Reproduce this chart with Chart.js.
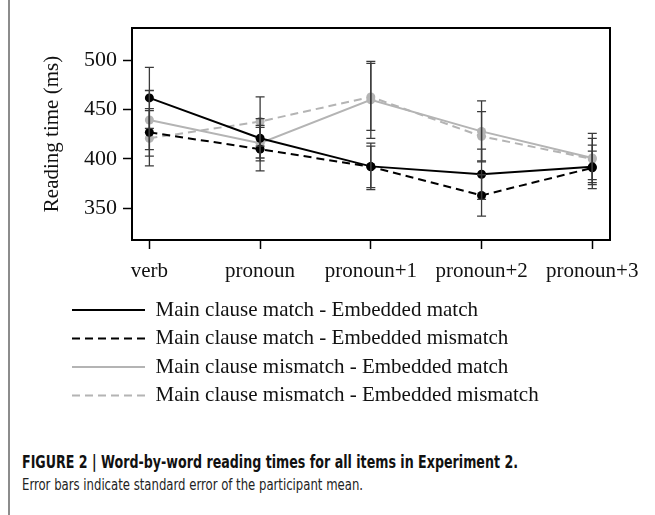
<!DOCTYPE html>
<html><head><meta charset="utf-8">
<script src="https://cdn.jsdelivr.net/npm/chart.js@4.4.1/dist/chart.umd.min.js"></script>
<style>
html,body{margin:0;padding:0;background:#fff;}
#wrap{position:relative;width:655px;height:515px;overflow:hidden;background:#fff;}
#frame{position:absolute;left:8px;top:0;width:0;height:515px;border-left:2px solid #8c8c8c;}
#c{position:absolute;left:0;top:0;}
.cap{position:absolute;left:22px;white-space:nowrap;transform-origin:0 50%;font-family:'Liberation Sans Narrow','DejaVu Sans Condensed','Arial Narrow','Liberation Sans',sans-serif;color:#111;line-height:1;display:inline-block;}
#cap1{font-weight:bold;font-size:17px;top:454px;}
#cap2{font-size:16px;top:477px;color:#222;}
</style></head>
<body><div id="wrap"><div id="frame"></div>
<canvas id="c" width="655" height="430"></canvas>
<div class="cap" id="cap1">FIGURE 2 | Word-by-word reading times for all items in Experiment 2.</div>
<div class="cap" id="cap2">Error bars indicate standard error of the participant mean.</div></div>
<script>
const categories = ['verb', 'pronoun', 'pronoun+1', 'pronoun+2', 'pronoun+3'];
const yTicks = [350, 400, 450, 500];
const seriesNames = [
  'Main clause match - Embedded match',
  'Main clause match - Embedded mismatch',
  'Main clause mismatch - Embedded match',
  'Main clause mismatch - Embedded mismatch'
];
const matchMatch = [462, 421, 392.5, 384.5, 392];
const matchMatchSE = [31, 20, 23.5, 25.5, 22];
const matchMismatch = [427, 410, 392, 363, 391];
const matchMismatchSE = [24, 22, 21, 21, 17];
const mismatchMatch = [439.5, 416, 460, 428, 401];
const mismatchMatchSE = [30, 18, 39, 31, 25];
const mismatchMismatch = [421, 438, 463, 423, 400];
const mismatchMismatchSE = [28, 25, 34, 25, 21];

const BLACK = '#000000', GRAY = '#b4b4b4', DASH = [8, 5];
const SERIF = "'Liberation Serif','Times New Roman',serif";

function makeSet(label, vals, se, color, dash) {
  return {
    label, se,
    data: vals.map((v, i) => ({x: i, y: v})),
    borderColor: color, backgroundColor: color, borderWidth: 2, borderDash: dash,
    pointRadius: 4.5, pointHoverRadius: 4.5, pointBackgroundColor: color, pointBorderWidth: 0,
    tension: 0
  };
}

const frame = {
  id: 'frame',
  beforeDatasetsDraw(chart) {
    const a = chart.chartArea, ctx = chart.ctx;
    ctx.save(); ctx.strokeStyle = '#000'; ctx.lineWidth = 2;
    ctx.strokeRect(a.left, a.top, a.right - a.left, a.bottom - a.top);
    ctx.restore();
  }
};
const errorBars = {
  id: 'errorBars',
  afterDatasetsDraw(chart) {
    const {ctx, scales: {x, y}} = chart;
    ctx.save(); ctx.strokeStyle = '#3a3a3a'; ctx.lineWidth = 1.3; ctx.setLineDash([]);
    chart.data.datasets.forEach(d => {
      d.data.forEach((p, i) => {
        const se = d.se[i];
        const px = x.getPixelForValue(p.x);
        const t = y.getPixelForValue(p.y + se), b = y.getPixelForValue(p.y - se);
        ctx.beginPath();
        ctx.moveTo(px, t); ctx.lineTo(px, b);
        ctx.moveTo(px - 4.5, t); ctx.lineTo(px + 4.5, t);
        ctx.moveTo(px - 4.5, b); ctx.lineTo(px + 4.5, b);
        ctx.stroke();
      });
    });
    ctx.restore();
  }
};
const legendPlace = {
  id: 'legendPlace',
  afterLayout(chart) {
    const L = chart.legend;
    L.left = 64.5; L.top = 292; L.right = 655; L.bottom = 430;
  }
};

new Chart(document.getElementById('c'), {
  type: 'line',
  data: {
    datasets: [
      makeSet(seriesNames[0], matchMatch, matchMatchSE, BLACK, []),
      makeSet(seriesNames[1], matchMismatch, matchMismatchSE, BLACK, DASH),
      makeSet(seriesNames[2], mismatchMatch, mismatchMatchSE, GRAY, []),
      makeSet(seriesNames[3], mismatchMismatch, mismatchMismatchSE, GRAY, DASH)
    ]
  },
  options: {
    responsive: false, animation: false, devicePixelRatio: 1,
    layout: {padding: {left: 0, right: 45, top: 28, bottom: 140}},
    plugins: {
      tooltip: {enabled: false},
      legend: {
        position: 'chartArea', align: 'start',
        labels: {
          usePointStyle: true, pointStyleWidth: 73, padding: 7.5, color: '#111',
          font: {family: SERIF, size: 21},
          generateLabels: chart => chart.data.datasets.map((d, i) => ({
            text: d.label, fillStyle: d.borderColor, strokeStyle: d.borderColor,
            lineWidth: 2, lineDash: d.borderDash, pointStyle: 'line', hidden: false,
            datasetIndex: i, fontColor: '#111'
          }))
        }
      }
    },
    scales: {
      x: {
        type: 'linear', min: -0.157, max: 4.16,
        afterBuildTicks: s => { s.ticks = categories.map((c, i) => ({value: i})); },
        afterFit: s => { s.height = 50; },
        ticks: {autoSkip: false, maxRotation: 0, minRotation: 0, padding: 10, color: '#111',
          font: {family: SERIF, size: 21}, callback: v => categories[v]},
        grid: {display: true, drawOnChartArea: false, drawTicks: true, tickLength: 9, tickColor: '#000', tickWidth: 1.5},
        border: {display: false}
      },
      y: {
        type: 'linear', min: 317.8, max: 532.9,
        afterBuildTicks: s => { s.ticks = yTicks.map(v => ({value: v})); },
        afterFit: s => { s.width = 132; },
        ticks: {padding: 6, color: '#111', font: {family: SERIF, size: 22}},
        grid: {display: true, drawOnChartArea: false, drawTicks: true, tickLength: 9, tickColor: '#000', tickWidth: 1.5},
        border: {display: false},
        title: {display: true, text: 'Reading time (ms)', color: '#111', font: {family: SERIF, size: 21}, padding: {top: 40, bottom: 0}}
      }
    }
  },
  plugins: [frame, errorBars, legendPlace]
});

function fitCap(id, w) {
  const el = document.getElementById(id);
  const cw = el.getBoundingClientRect().width;
  if (cw > 0) el.style.transform = 'scaleX(' + (w / cw) + ')';
}
fitCap('cap1', 496);
fitCap('cap2', 341);
</script>
</body></html>
